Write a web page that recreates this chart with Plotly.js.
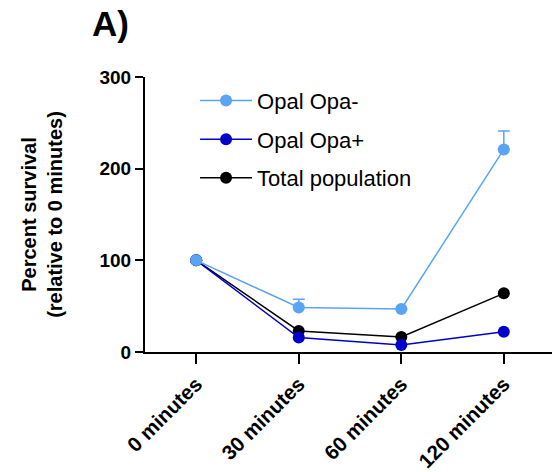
<!DOCTYPE html>
<html>
<head>
<meta charset="utf-8">
<script src="https://cdn.plot.ly/plotly-3.0.1.min.js"></script>
<style>html,body{margin:0;padding:0;background:#fff;}#chart{width:552px;height:472px;}</style>
</head>
<body>
<div id="chart"></div>
<script>
const categories = ["0 minutes", "30 minutes", "60 minutes", "120 minutes"];
const opaMinus = [100, 48.5, 47, 221];
const opaMinusErr = [null, 9, null, 20];
const opaPlus = [100, 15.7, 7.7, 22];
const totalPop = [100, 23, 16.4, 64];
const yTicks = [0, 100, 200, 300];

const lightBlue = "#5AA4F6";
const darkBlue = "#0000C8";
const black = "#000000";

function series(name, y, color, group, rank, err) {
  const t = {
    x: categories, y: y, name: name, type: "scatter", mode: "lines+markers",
    legendgroup: group, legendrank: rank,
    line: {color: color, width: 1.5},
    marker: {color: color, size: 12},
    cliponaxis: false
  };
  if (err) {
    t.error_y = {type: "data", array: err, arrayminus: err.map(() => 0), symmetric: false,
      color: color, thickness: 1.5, width: 6};
  }
  return t;
}

const data = [
  series("Total population", totalPop, black, "c", 3),
  series("Opal Opa+", opaPlus, darkBlue, "b", 2),
  series("Opal Opa-", opaMinus, lightBlue, "a", 1, opaMinusErr)
];

const font = "Arial, 'Liberation Sans', sans-serif";
const layout = {
  width: 552, height: 472,
  margin: {l: 145, r: 0, t: 77, b: 120},
  paper_bgcolor: "#fff", plot_bgcolor: "#fff",
  font: {family: font, color: "#000"},
  title: {text: "<b>A)</b>", font: {size: 35, family: font, color: "#000"},
    xref: "container", x: 92/552, xanchor: "left", yref: "container", y: 1 - 24/472, yanchor: "middle"},
  showlegend: true,
  legend: {x: 0.123, y: 0.99, xanchor: "left", yanchor: "top", traceorder: "grouped",
    tracegroupgap: 7, itemwidth: 52, font: {size: 22, family: font, color: "#000"}, bgcolor: "rgba(0,0,0,0)"},
  xaxis: {
    type: "category", range: [-0.5, 3.47], showline: true, linecolor: "#000", linewidth: 2,
    ticks: "outside", ticklen: 10, tickwidth: 2, tickcolor: "#000", tickangle: -45,
    tickfont: {size: 20.5, family: font, color: "#000", weight: "bold"},
    showgrid: false, zeroline: false, fixedrange: true
  },
  yaxis: {
    range: [0, 300], tickvals: yTicks, ticktext: yTicks.map(String), showline: true, linecolor: "#000", linewidth: 2,
    ticks: "outside", ticklen: 8, tickwidth: 2, tickcolor: "#000",
    tickfont: {size: 19, family: font, color: "#000", weight: "bold"},
    showgrid: false, zeroline: false, fixedrange: true,
    title: {text: "<b>Percent survival<br>(relative to 0 minutes)</b>", font: {size: 20, family: font, color: "#000"}, standoff: 31}
  }
};

Plotly.newPlot("chart", data, layout, {displayModeBar: false, staticPlot: true});
</script>
</body>
</html>
